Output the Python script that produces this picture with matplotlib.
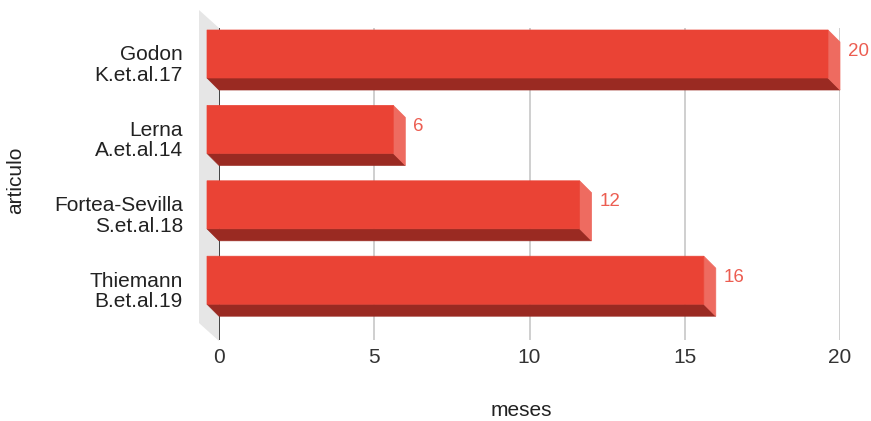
import numpy as np
import matplotlib
matplotlib.use('Agg')
import matplotlib.pyplot as plt
from matplotlib.patches import Polygon

plt.rcParams['font.family'] = ['Liberation Sans', 'DejaVu Sans']

# Data
labels = ['Godon\nK.et.al.17', 'Lerna\nA.et.al.14',
          'Fortea-Sevilla\nS.et.al.18', 'Thiemann\nB.et.al.19']
meses = [20, 6, 12, 16]
xticks = [0, 5, 10, 15, 20]

# Colours
c_front = '#EA4335'
c_bottom = '#9A2A22'
c_side = '#EE6B60'
c_label = '#EC5D51'
c_wall = '#E6E6E6'

W, H = 871, 421
fig = plt.figure(figsize=(W / 100, H / 100), dpi=100)
# axes = back plane of the 3d box (pixels 219..840 x 28..340)
ax = fig.add_axes([219 / W, (H - 340) / H, 621 / W, 312 / H])

px_x = 621 / 20.0     # px per month
px_y = 75.4           # px per category
ax.set_xlim(0, 20)
ax.set_ylim((340 - 54) / px_y, (28 - 54) / px_y)

# depth of bars / wall in data units
dx = 12 / px_x
dy = 12 / px_y
h = 48 / px_y
wdx = 20 / px_x
y0, y1 = ax.get_ylim()[1], ax.get_ylim()[0]

# left wall
wall = Polygon([(-wdx, y0 - 18 / px_y), (0, y0), (0, y1 + 1 / px_y),
                (-wdx, y1 - 17 / px_y)],
               closed=True, fc=c_wall, ec='none', clip_on=False, zorder=0)
ax.add_patch(wall)

# grid + axis line
ax.vlines(xticks[1:], y0, y1, color='#CCCCCC', lw=1.3, zorder=1)
ax.vlines(0, y0, y1, color='#333333', lw=1.3, zorder=1)


def face(pts, color):
    p = Polygon(pts, closed=True, fc=color, ec=color, lw=0.5,
                clip_on=False, zorder=3, snap=False)
    ax.add_patch(p)


ypos = np.arange(len(labels))
for y, v in zip(ypos, meses):
    top = y - h / 2
    bot = y + h / 2
    face([(-dx, bot), (v - dx, bot), (v, bot + dy), (0, bot + dy)], c_bottom)
    face([(v - dx, top), (v, top + dy), (v, bot + dy), (v - dx, bot)], c_side)
    face([(-dx, top), (v - dx, top), (v - dx, bot), (-dx, bot)], c_front)
    ax.text(v + 8 / px_x, y - 3 / px_y, str(v), color=c_label, fontsize=13.5,
            ha='left', va='center', zorder=4)

ax.set_xticks(xticks)
ax.set_xticklabels([str(t) for t in xticks], fontsize=15, color='#333333')
ax.set_yticks(ypos + 8.5 / px_y)
ax.set_yticklabels(labels, fontsize=15, color='#222222', linespacing=1.1)
ax.tick_params(axis='x', length=0, pad=6)
ax.tick_params(axis='y', length=0, pad=26)
for s in ax.spines.values():
    s.set_visible(False)
ax.set_facecolor('none')

fig.text(521 / W, 1 - 411 / H, 'meses', fontsize=15, color='#222222',
         ha='center', va='center')
fig.text(16 / W, 1 - 180 / H, 'articulo', fontsize=15, color='#222222',
         ha='center', va='center', rotation=90)

plt.savefig('out.png', dpi=100)
